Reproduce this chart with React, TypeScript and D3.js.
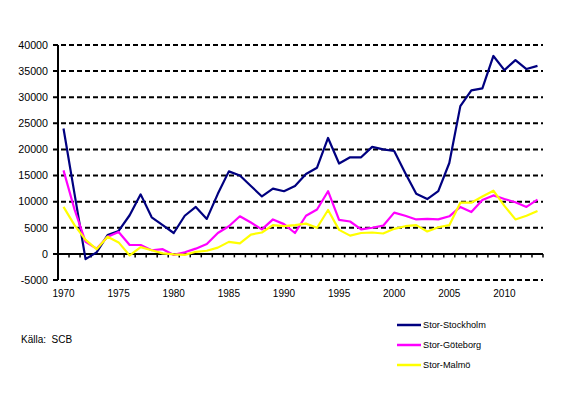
import React from 'react';
import * as d3 from 'd3';

const years = d3.range(1970, 2014).map(String);

const stockholm = [
  24000, 11500, -1000, 300, 3600, 4400, 7400, 11400, 7000, 5500,
  4000, 7300, 9000, 6700, 11500, 15800, 15000, 13000, 11000, 12500,
  12000, 13000, 15300, 16500, 22200, 17300, 18500, 18500, 20500, 20000,
  19700, 15500, 11500, 10500, 12000, 17400, 28300, 31300, 31700, 37900,
  35200, 37100, 35400, 36000,
];

const goteborg = [
  16000, 8500, 2300, 1000, 3300, 4200, 1700, 1700, 700, 900,
  -200, 300, 1000, 1900, 4000, 5300, 7200, 6000, 4700, 6600,
  5700, 4000, 7300, 8500, 12000, 6500, 6200, 4700, 5000, 5400,
  7900, 7300, 6600, 6700, 6600, 7200, 9000, 8000, 10300, 11200,
  10500, 9900, 9000, 10400,
];

const malmo = [
  9000, 5500, 2700, 900, 3300, 2200, -300, 1300, 700, 100,
  -100, -200, 400, 600, 1200, 2300, 2000, 3700, 4100, 5500,
  5300, 5500, 5800, 5000, 8400, 4600, 3500, 4000, 4100, 3900,
  4800, 5300, 5500, 4300, 5100, 5500, 9800, 9800, 11000, 12100,
  9200, 6600, 7300, 8200,
];

const yTicks = [-5000, 0, 5000, 10000, 15000, 20000, 25000, 30000, 35000, 40000];
const xLabels = ['1970', '1975', '1980', '1985', '1990', '1995', '2000', '2005', '2010'];

const series = [
  { name: 'Stor-Stockholm', values: stockholm, color: '#000080' },
  { name: 'Stor-Göteborg', values: goteborg, color: '#FF00FF' },
  { name: 'Stor-Malmö', values: malmo, color: '#FFFF00' },
];

const W = 577;
const H = 395;
const left = 58;
const right = 543;
const top = 45;
const bottom = 280;

export default function App() {
  const x = d3.scaleBand().domain(years).range([left, right]);
  const y = d3.scaleLinear().domain([-5000, 40000]).range([bottom, top]);
  const cx = (yr: string) => x(yr)! + x.bandwidth() / 2;

  const line = d3
    .line<number>()
    .x((_, i) => cx(years[i]))
    .y((d) => y(d));

  const font = 'Arial, "Liberation Sans", sans-serif';

  return (
    <svg
      width={W}
      height={H}
      style={{ position: 'absolute', left: 0, top: 0, background: '#fff' }}
      fontFamily={font}
    >
      {/* gridlines */}
      {yTicks
        .filter((t) => t !== 0)
        .map((t) => (
          <line
            key={t}
            x1={left - 5}
            x2={right}
            y1={y(t)}
            y2={y(t)}
            stroke="#000"
            strokeWidth={2}
            strokeDasharray="5,3"
          />
        ))}
      {/* y labels */}
      {yTicks.map((t) => (
        <text
          key={t}
          x={48}
          y={y(t)}
          dy="0.35em"
          textAnchor="end"
          fontSize={10.7}
          fill="#000"
        >
          {t}
        </text>
      ))}
      {/* x ticks on zero line */}
      {years.map((yr) => (
        <line
          key={yr}
          x1={x(yr)! + x.bandwidth()}
          x2={x(yr)! + x.bandwidth()}
          y1={y(0)}
          y2={y(0) + 3.5}
          stroke="#000"
          strokeWidth={1.5}
        />
      ))}
      {/* axes */}
      <line x1={left - 5} x2={right} y1={y(0)} y2={y(0)} stroke="#000" strokeWidth={2} />
      <line x1={left} x2={left} y1={top} y2={bottom} stroke="#000" strokeWidth={2} />
      {xLabels.map((l) => (
        <text key={l} x={cx(l)} y={293} dy="0.35em" textAnchor="middle" fontSize={10} fill="#000">
          {l}
        </text>
      ))}
      {/* series */}
      {series.map((s) => (
        <path
          key={s.name}
          d={line(s.values)!}
          fill="none"
          stroke={s.color}
          strokeWidth={2.2}
          strokeLinejoin="round"
        />
      ))}
      {/* legend */}
      {series.map((s, i) => (
        <g key={s.name} transform={`translate(397, ${325 + i * 20})`}>
          <line x1={0} x2={24} y1={0} y2={0} stroke={s.color} strokeWidth={2.5} />
          <text x={26} y={0} dy="0.35em" fontSize={9.2} fill="#000">
            {s.name}
          </text>
        </g>
      ))}
      <text x={21} y={339} dy="0.35em" fontSize={10} fill="#000" style={{ whiteSpace: 'pre' }}>
        {'Källa:  SCB'}
      </text>
    </svg>
  );
}
